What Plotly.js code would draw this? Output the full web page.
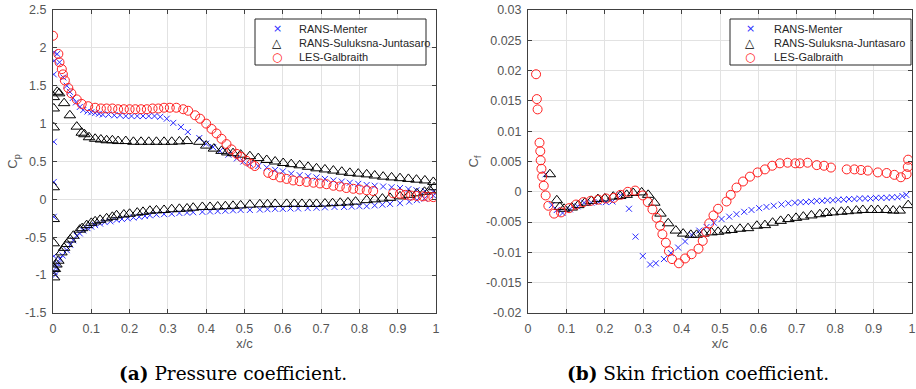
<!DOCTYPE html>
<html>
<head>
<meta charset="utf-8">
<script src="https://cdn.plot.ly/plotly-3.0.1.min.js"></script>
<style>html,body{margin:0;padding:0;background:#fff;}#chart{width:916px;height:389px;}</style>
</head>
<body>
<div id="chart"></div>
<script>
// ---------- Data: pressure coefficient (a) ----------
var seriesNames = ["RANS-Menter", "RANS-Suluksna-Juntasaro", "LES-Galbraith"];

var menterCpX = [0.003,0.003,0.002,0.002,0.002,0.002,0.002,0.004,0.006,
  0.011,0.017,0.027,0.036,0.044,0.052,0.060,0.070,0.079,0.090,0.100,0.110,0.120,0.130,0.145,0.160,0.175,0.190,0.205,0.220,0.235,0.250,0.265,0.280,0.297,0.314,0.334,0.352,0.382,0.400,0.418,0.436,0.458,0.480,0.497,0.514,0.536,0.558,0.580,0.600,0.622,0.644,0.666,0.688,0.710,0.732,0.754,0.775,0.797,0.819,0.840,0.862,0.884,0.906,0.928,0.949,0.971,0.993,
  0.008,0.012,0.018,0.025,0.036,0.045,0.053,0.062,0.070,0.079,0.090,0.100,0.110,0.123,0.135,0.150,0.166,0.180,0.195,0.210,0.225,0.240,0.253,0.270,0.290,0.310,0.330,0.350,0.366,0.390,0.410,0.430,0.450,0.470,0.490,0.514,0.540,0.560,0.580,0.600,0.620,0.640,0.665,0.688,0.710,0.735,0.760,0.780,0.800,0.819,0.840,0.860,0.880,0.906,0.930,0.950,0.970,0.993];
var menterCp = [1.94,1.83,1.65,0.76,0.23,-0.23,-0.75,-0.96,-1.00,
  1.92,1.81,1.61,1.50,1.42,1.34,1.28,1.22,1.18,1.16,1.15,1.14,1.13,1.12,1.12,1.11,1.11,1.10,1.10,1.10,1.10,1.10,1.10,1.09,1.065,1.01,0.955,0.89,0.81,0.735,0.69,0.64,0.59,0.54,0.50,0.47,0.44,0.42,0.39,0.37,0.34,0.32,0.305,0.29,0.27,0.25,0.235,0.22,0.205,0.19,0.18,0.17,0.16,0.15,0.135,0.12,0.11,0.10,
  -0.90,-0.85,-0.79,-0.74,-0.67,-0.60,-0.54,-0.48,-0.45,-0.41,-0.38,-0.36,-0.34,-0.32,-0.30,-0.29,-0.27,-0.26,-0.25,-0.24,-0.23,-0.22,-0.21,-0.20,-0.195,-0.19,-0.18,-0.175,-0.17,-0.165,-0.16,-0.155,-0.15,-0.145,-0.14,-0.14,-0.135,-0.13,-0.125,-0.125,-0.12,-0.12,-0.115,-0.11,-0.105,-0.10,-0.10,-0.095,-0.09,-0.09,-0.08,-0.07,-0.06,-0.05,-0.03,-0.01,0.01,0.05];

var sjCpX = [0.002,0.002,0.002,0.002,0.002,0.002,0.002,0.003,
  0.011,0.016,0.029,0.044,0.062,0.075,0.082,0.094,0.110,0.125,0.140,0.155,0.170,0.190,0.210,0.230,0.250,0.270,0.290,0.310,0.330,0.350,0.382,0.400,0.420,0.440,0.455,0.470,0.490,0.514,0.536,0.558,0.580,0.601,0.622,0.644,0.666,0.688,0.710,0.732,0.754,0.775,0.797,0.819,0.840,0.862,0.884,0.906,0.928,0.949,0.971,0.993,
  0.005,0.009,0.014,0.022,0.029,0.036,0.045,0.053,0.070,0.076,0.088,0.100,0.110,0.123,0.140,0.155,0.166,0.185,0.200,0.220,0.235,0.253,0.270,0.290,0.310,0.330,0.350,0.366,0.390,0.410,0.430,0.450,0.470,0.490,0.514,0.540,0.560,0.580,0.610,0.630,0.650,0.670,0.688,0.710,0.730,0.750,0.770,0.790,0.819,0.840,0.860,0.880,0.906,0.930,0.950,0.970,0.984,0.995];
var sjCp = [1.35,1.20,0.95,0.16,-0.26,-0.58,-0.91,-1.03,
  1.42,1.40,1.27,1.11,0.96,0.88,0.86,0.82,0.80,0.79,0.78,0.78,0.77,0.77,0.76,0.76,0.76,0.76,0.76,0.76,0.765,0.77,0.76,0.71,0.67,0.64,0.62,0.61,0.59,0.57,0.545,0.52,0.50,0.48,0.465,0.45,0.43,0.41,0.395,0.38,0.365,0.35,0.34,0.33,0.315,0.30,0.29,0.28,0.27,0.26,0.25,0.23,
  -0.92,-0.86,-0.81,-0.70,-0.64,-0.59,-0.53,-0.48,-0.40,-0.38,-0.34,-0.31,-0.29,-0.27,-0.25,-0.23,-0.21,-0.20,-0.19,-0.175,-0.165,-0.15,-0.145,-0.14,-0.13,-0.125,-0.12,-0.11,-0.10,-0.10,-0.095,-0.09,-0.085,-0.08,-0.07,-0.065,-0.065,-0.06,-0.06,-0.06,-0.06,-0.06,-0.06,-0.055,-0.05,-0.045,-0.04,-0.03,-0.01,0.00,0.01,0.02,0.04,0.06,0.08,0.10,0.12,0.16];

var lesCpX = [0.000,0.014,0.017,0.023,0.026,0.031,0.040,0.048,0.062,0.075,0.092,0.110,0.125,0.140,0.155,0.170,0.185,0.200,0.215,0.230,0.245,0.260,0.275,0.290,0.305,0.322,0.340,0.353,0.371,0.384,0.400,0.414,0.427,0.440,0.453,0.466,0.480,0.492,0.505,0.518,0.527,0.562,0.575,0.593,0.610,0.627,0.644,0.662,0.680,0.697,0.714,0.732,0.749,0.766,0.784,0.801,0.819,0.836,0.888,0.906,0.920,0.935,0.950,0.966,0.980,0.993];
var lesCp = [2.16,1.92,1.81,1.72,1.65,1.57,1.47,1.40,1.32,1.26,1.23,1.21,1.20,1.20,1.20,1.19,1.19,1.19,1.19,1.19,1.19,1.20,1.20,1.21,1.21,1.21,1.19,1.17,1.11,1.065,1.00,0.93,0.87,0.80,0.73,0.66,0.60,0.56,0.51,0.47,0.44,0.35,0.32,0.29,0.27,0.25,0.24,0.23,0.22,0.21,0.20,0.18,0.17,0.15,0.14,0.13,0.12,0.11,0.08,0.075,0.06,0.05,0.045,0.04,0.035,0.03];

// ---------- Data: skin friction coefficient (b) ----------
var menterCfX = [0.046,0.062,0.075,0.090,0.109,0.129,0.146,0.165,0.184,0.203,0.220,0.241,0.263,0.280,0.299,0.318,0.333,0.354,0.372,0.391,0.409,0.426,0.446,0.465,0.484,0.504,0.524,0.543,0.563,0.582,0.602,0.621,0.640,0.660,0.678,0.695,0.710,0.724,0.738,0.752,0.766,0.780,0.794,0.808,0.822,0.836,0.850,0.864,0.878,0.892,0.906,0.920,0.934,0.948,0.962,0.975,0.985];
var menterCf = [0.0029,-0.0022,-0.0030,-0.0035,-0.0029,-0.0024,-0.0018,-0.0018,-0.0017,-0.0017,-0.0016,-0.0006,-0.0028,-0.0074,-0.0106,-0.0120,-0.0118,-0.0111,-0.0101,-0.0092,-0.0082,-0.0071,-0.0064,-0.0058,-0.0051,-0.0045,-0.0041,-0.0037,-0.0033,-0.0030,-0.0027,-0.0025,-0.0023,-0.0021,-0.0019,-0.0018,-0.0017,-0.0017,-0.0016,-0.0015,-0.0015,-0.0014,-0.0014,-0.0013,-0.0013,-0.0012,-0.0012,-0.0011,-0.0011,-0.0011,-0.0010,-0.0010,-0.0010,-0.0009,-0.0009,-0.0007,-0.0005];

var sjCfX = [0.057,0.075,0.083,0.094,0.114,0.131,0.148,0.165,0.182,0.200,0.222,0.240,0.257,0.274,0.296,0.313,0.329,0.345,0.365,0.385,0.404,0.424,0.439,0.457,0.478,0.495,0.513,0.530,0.552,0.573,0.596,0.617,0.637,0.658,0.678,0.698,0.717,0.738,0.760,0.777,0.794,0.816,0.833,0.855,0.872,0.894,0.911,0.933,0.951,0.968,0.990];
var sjCf = [0.0029,-0.0014,-0.0025,-0.0028,-0.0026,-0.0022,-0.0018,-0.0015,-0.0012,-0.0011,-0.0008,-0.0007,-0.0005,-0.0002,-0.0001,-0.0005,-0.0018,-0.0036,-0.0052,-0.0064,-0.0069,-0.0071,-0.0071,-0.0069,-0.0067,-0.0066,-0.0064,-0.0063,-0.0061,-0.0060,-0.0056,-0.0055,-0.0051,-0.0048,-0.0045,-0.0043,-0.0041,-0.0039,-0.0037,-0.0035,-0.0034,-0.0033,-0.0032,-0.0031,-0.0030,-0.0030,-0.0030,-0.0030,-0.0031,-0.0031,-0.0022];

var lesCfX = [0.021,0.023,0.025,0.030,0.032,0.033,0.035,0.037,0.041,0.046,0.053,0.068,0.086,0.107,0.125,0.144,0.163,0.183,0.203,0.223,0.241,0.260,0.279,0.299,0.312,0.324,0.335,0.344,0.350,0.359,0.367,0.375,0.393,0.409,0.426,0.444,0.455,0.464,0.472,0.483,0.495,0.517,0.528,0.543,0.560,0.578,0.598,0.617,0.636,0.656,0.676,0.696,0.708,0.728,0.752,0.771,0.789,0.830,0.850,0.867,0.885,0.911,0.934,0.954,0.971,0.986,0.989,0.990];
var lesCf = [0.0194,0.0153,0.0136,0.0081,0.0067,0.0052,0.0038,0.0025,0.0010,-0.0006,-0.0023,-0.0036,-0.0034,-0.0027,-0.0021,-0.0017,-0.0015,-0.0013,-0.0011,-0.0010,-0.0005,0.0000,0.0002,-0.0006,-0.0017,-0.0029,-0.0043,-0.0056,-0.0070,-0.0084,-0.0098,-0.0111,-0.0118,-0.0110,-0.0103,-0.0094,-0.0081,-0.0066,-0.0052,-0.0039,-0.0028,-0.0016,-0.0005,0.0007,0.0017,0.0025,0.0032,0.0037,0.0043,0.0047,0.0048,0.0047,0.0047,0.0048,0.0044,0.0043,0.0040,0.0037,0.0037,0.0036,0.0035,0.0032,0.0031,0.0028,0.0024,0.0029,0.0041,0.0053];

// ---------- Tick labels ----------
var xTickVals = [0,0.1,0.2,0.3,0.4,0.5,0.6,0.7,0.8,0.9,1];
var xTickText = ["0","0.1","0.2","0.3","0.4","0.5","0.6","0.7","0.8","0.9","1"];
var cpTickVals = [2.5,2,1.5,1,0.5,0,-0.5,-1,-1.5];
var cpTickText = ["2.5","2","1.5","1","0.5","0","-0.5","-1","-1.5"];
var cfTickVals = [0.03,0.025,0.02,0.015,0.01,0.005,0,-0.005,-0.01,-0.015,-0.02];
var cfTickText = ["0.03","0.025","0.02","0.015","0.01","0.005","0","-0.005","-0.01","-0.015","-0.02"];
var captions = ["<b>(a)</b> Pressure coefficient.", "<b>(b)</b> Skin friction coefficient."];
var legendSymbols = ["\u00D7", "\u25B3", "\u25CB"];

// ---------- Styles ----------
var W = 916, H = 389;
function PX(x){ return x / W; }
function PY(y){ return 1 - y / H; }
var colMenter = "#2b2bff", colSJ = "#000000", colLES = "#ff2020";
var mkMenter = {symbol:"x-thin-open", size:6, color:colMenter, line:{color:colMenter, width:1}};
var mkSJ = {symbol:"triangle-up-open", size:10, color:colSJ, line:{color:colSJ, width:1}};
var mkLES = {symbol:"circle-open", size:9, color:colLES, line:{color:colLES, width:1}};

var traces = [
  {type:"scatter", mode:"markers", name:seriesNames[0], x:menterCpX, y:menterCp, marker:mkMenter, xaxis:"x", yaxis:"y", showlegend:false},
  {type:"scatter", mode:"markers", name:seriesNames[1], x:sjCpX, y:sjCp, marker:mkSJ, xaxis:"x", yaxis:"y", showlegend:false},
  {type:"scatter", mode:"markers", name:seriesNames[2], x:lesCpX, y:lesCp, marker:mkLES, xaxis:"x", yaxis:"y", showlegend:false},
  {type:"scatter", mode:"markers", name:seriesNames[0], x:menterCfX, y:menterCf, marker:mkMenter, xaxis:"x2", yaxis:"y2", showlegend:false},
  {type:"scatter", mode:"markers", name:seriesNames[1], x:sjCfX, y:sjCf, marker:mkSJ, xaxis:"x2", yaxis:"y2", showlegend:false},
  {type:"scatter", mode:"markers", name:seriesNames[2], x:lesCfX, y:lesCf, marker:mkLES, xaxis:"x2", yaxis:"y2", showlegend:false}
];

var axisCommon = {
  showgrid:true, gridcolor:"#e2e2e2", gridwidth:1,
  zeroline:false, showline:true, linecolor:"#404040", linewidth:1,
  mirror:"ticks", ticks:"inside", ticklen:4, tickcolor:"#404040", tickwidth:1,
  tickfont:{family:"Liberation Sans, Arial, sans-serif", size:12.5, color:"#555555"},
  tickmode:"array", fixedrange:true
};
function ax(extra){ var o = {}; for (var k in axisCommon) o[k] = axisCommon[k]; for (var k2 in extra) o[k2] = extra[k2]; return o; }

var yDom = [PY(313), PY(10)];
var titleFont = {family:"Liberation Sans, Arial, sans-serif", size:13, color:"#555555"};

var layout = {
  width:W, height:H, margin:{l:0, r:0, t:0, b:0},
  paper_bgcolor:"#ffffff", plot_bgcolor:"#ffffff", showlegend:false,
  xaxis: ax({domain:[PX(53), PX(436)], range:[0,1], tickvals:xTickVals, ticktext:xTickText, anchor:"y",
            ticklabelstandoff:4, title:{text:"x/c", font:titleFont, standoff:3}}),
  yaxis: ax({domain:yDom, range:[-1.5,2.5], tickvals:cpTickVals, ticktext:cpTickText, anchor:"x",
            ticklabelstandoff:3, title:{text:"C<sub>p</sub>", font:titleFont, standoff:4}}),
  xaxis2: ax({domain:[PX(528), PX(912)], range:[0,1], tickvals:xTickVals, ticktext:xTickText, anchor:"y2",
            ticklabelstandoff:4, title:{text:"x/c", font:titleFont, standoff:3}}),
  yaxis2: ax({domain:yDom, range:[-0.02,0.03], tickvals:cfTickVals, ticktext:cfTickText, anchor:"x2",
            ticklabelstandoff:3, title:{text:"C<sub>f</sub>", font:titleFont, standoff:4}}),
  shapes:[], annotations:[]
};

// captions
var capFont = {family:"DejaVu Serif, Liberation Serif, serif", size:18.5, color:"#000000"};
layout.annotations.push({xref:"paper", yref:"paper", x:PX(233), y:PY(373), xanchor:"center", yanchor:"middle", showarrow:false, text:captions[0], font:capFont});
layout.annotations.push({xref:"paper", yref:"paper", x:PX(698), y:PY(373), xanchor:"center", yanchor:"middle", showarrow:false, text:captions[1], font:capFont});

// legend boxes (MATLAB style, inside axes, top-right)
var symColors = [colMenter, colSJ, colLES];
var symSizes = [11, 12, 12];
function addLegend(x0, x1, y0, y1, symX, textX){
  layout.shapes.push({type:"rect", xref:"paper", yref:"paper", x0:PX(x0), x1:PX(x1), y0:PY(y1), y1:PY(y0),
    line:{color:"#262626", width:1}, fillcolor:"#ffffff", layer:"above"});
  var rows = [29, 43, 57.5];
  for (var i = 0; i < 3; i++){
    layout.annotations.push({xref:"paper", yref:"paper", x:PX(symX), y:PY(rows[i]), xanchor:"center", yanchor:"middle",
      showarrow:false, text:legendSymbols[i], font:{family:"DejaVu Sans, sans-serif", size:symSizes[i], color:symColors[i]}});
    layout.annotations.push({xref:"paper", yref:"paper", x:PX(textX), y:PY(rows[i]), xanchor:"left", yanchor:"middle",
      showarrow:false, text:seriesNames[i], font:{family:"Liberation Sans, Arial, sans-serif", size:11, color:"#262626"}});
  }
}
addLegend(255, 426, 19, 65, 277, 297);
addLegend(730, 911, 19, 65, 750, 772);

Plotly.newPlot("chart", traces, layout, {staticPlot:true, displayModeBar:false});
</script>
</body>
</html>
